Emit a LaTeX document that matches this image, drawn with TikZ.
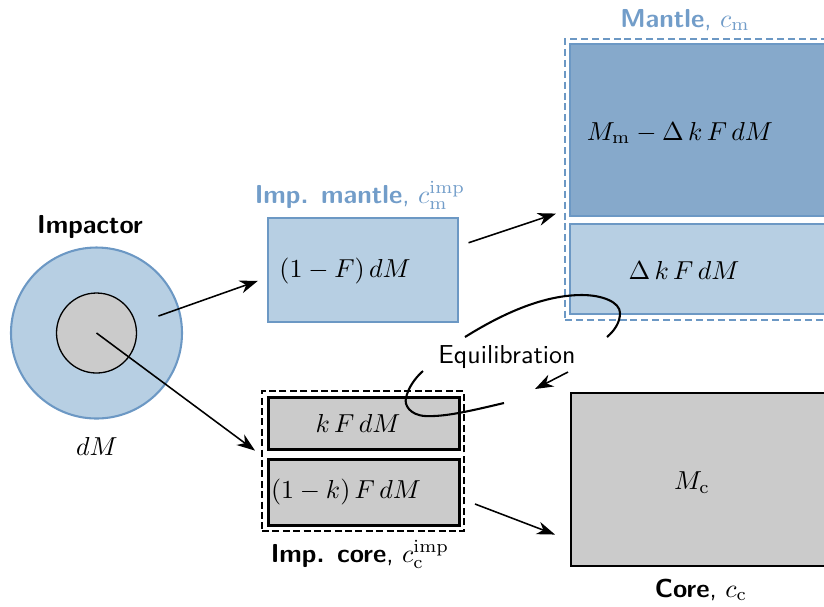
\documentclass[tikz,border=0pt]{standalone}
\usetikzlibrary{arrows.meta,calc}
\newlength\pxu
\setlength\pxu{0.385pt}
\definecolor{mblue}{HTML}{6C98C4}
\definecolor{mtxt}{HTML}{729DC9}
\definecolor{lblue}{HTML}{B7CFE3}
\definecolor{dblue}{HTML}{86A9CB}
\definecolor{cgray}{HTML}{CBCBCB}
\tikzset{
  boxnode/.style={rectangle, inner sep=0pt, anchor=north west},
  bluebox/.style={boxnode, draw=mblue, line width=0.6pt},
  graybox/.style={boxnode, draw=black, fill=cgray, line width=1pt},
  arr/.style={-{Stealth[length=7pt,width=5pt,inset=2.2pt]}, line width=0.6pt},
  eqline/.style={line width=0.8pt},
  lab/.style={font=\sffamily, anchor=base}
}
\begin{document}
\begin{tikzpicture}[x=0.385pt,y=-0.385pt]
\path[use as bounding box] (0,0) rectangle (824,606);
\clip (0,0) rectangle (824,606);

% impactor
\node[circle, draw=mblue, fill=lblue, line width=0.8pt, minimum size=171*\pxu, inner sep=0pt] (impactor) at (96.5,333) {};
\node[circle, draw=black, fill=cgray, line width=0.5pt, minimum size=80*\pxu, inner sep=0pt] (impcoreball) at (96.5,333) {};
\node[font=\sffamily\bfseries] (timpactor) at (90,227) {Impactor};
\node (tdm) at (97,446) {$dM$};

% impactor mantle
\node[bluebox, fill=lblue, minimum width=190*\pxu, minimum height=104*\pxu] (impmantle) at (267,217) {};
\node (timpm) at (345,271) {$(1-F)\,dM$};
\node[lab, text=mtxt] (limpm) at (360,203) {\textbf{Imp. mantle}, $c_{\mathrm{m}}^{\mathrm{imp}}$};

% impactor core
\node[boxnode, draw=black, dash pattern=on 2.7pt off 1.3pt, line width=0.75pt, minimum width=202*\pxu, minimum height=140*\pxu] (impcore) at (261,390) {};
\node[graybox, minimum width=191*\pxu, minimum height=52*\pxu] (kfdm) at (267,396) {};
\node[graybox, minimum width=191*\pxu, minimum height=66*\pxu] (omk) at (267,458) {};
\node[anchor=base] (tkfdm) at (358,432) {$k\,F\,dM$};
\node (tomk) at (346,492) {$(1-k)\,F\,dM$};
\node[lab] (limpc) at (360,562) {\textbf{Imp. core}, $c_{\mathrm{c}}^{\mathrm{imp}}$};

% mantle
\node[boxnode, draw=mblue, dash pattern=on 2.7pt off 1.5pt, line width=0.75pt, minimum width=400*\pxu, minimum height=281*\pxu] (mantle) at (564,38) {};
\node[bluebox, fill=dblue, minimum width=390*\pxu, minimum height=172*\pxu] (mtop) at (569,43) {};
\node[bluebox, fill=lblue, minimum width=390*\pxu, minimum height=90*\pxu] (mbot) at (569,223) {};
\node[anchor=base] (tmtop) at (680,140) {$M_{\mathrm{m}}-\Delta\,k\,F\,dM$};
\node[anchor=base] (tmbot) at (684,279) {$\Delta\,k\,F\,dM$};
\node[lab, text=mtxt] (lmantle) at (685,27) {\textbf{Mantle}, $c_{\mathrm{m}}$};

% core
\node[graybox, line width=0.8pt, minimum width=400*\pxu, minimum height=173*\pxu] (core) at (570,392) {};
\node (tmc) at (692,483) {$M_{\mathrm{c}}$};
\node[lab] (lcore) at (701,597) {\textbf{Core}, $c_{\mathrm{c}}$};

% arrows
\draw[arr] ($(impactor.center)+(62,-17)$) -- ($(impmantle.west)+(-9,11)$);
\draw[arr] (impcoreball.center) -- ($(kfdm.south west)+(-12,0)$);
\draw[arr] ($(impmantle.east)+(10,-27)$) -- ($(mtop.south west)+(-13,-3)$);
\draw[arr] ($(impcore.east)+(10,43)$) -- ($(core.west)+(-15,55)$);

% equilibration
\node[lab] (teq) at (507,363) {Equilibration};
\draw[eqline] (504,403) .. controls (470,411) and (445,417) .. (425,416)
  .. controls (410,415) and (404,405) .. (406,398)
  .. controls (408,388) and (415,378) .. (423,371);
\draw[eqline] (465,337) .. controls (505,312) and (545,295) .. (582,295)
  .. controls (602,295) and (620,302) .. (620,313)
  .. controls (620,323) and (614,331) .. (607,337);
\draw[arr] (568,372) -- (535,389);
\end{tikzpicture}
\end{document}
